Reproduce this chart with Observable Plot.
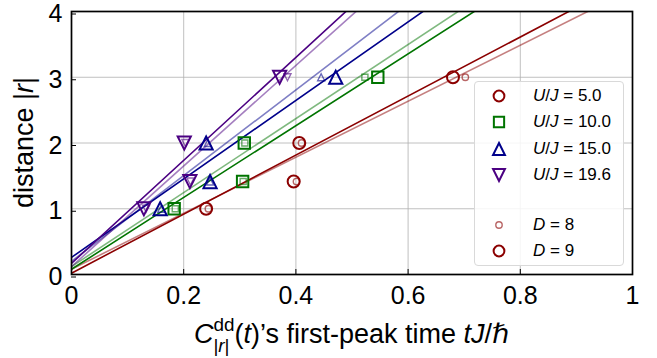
<!DOCTYPE html>
<html>
<head>
<meta charset="utf-8">
<script src="https://cdn.jsdelivr.net/npm/d3@7"></script>
<script src="https://cdn.jsdelivr.net/npm/@observablehq/plot@0.6"></script>
<style>
  body { margin: 0; background: #fff; }
  #chart { position: relative; width: 657px; height: 358px; font-family: "Liberation Sans", Arial, "DejaVu Sans", sans-serif; }
  .legend { position: absolute; left: 474px; top: 81px; width: 150px; height: 185px; box-sizing: border-box;
            border: 1px solid #d9d9d9; border-radius: 4px; background: rgba(255,255,255,0.85); }
  .row { position: absolute; left: 0; height: 20px; line-height: 20px; font-size: 17px; color: #000; white-space: nowrap; }
  .row svg { position: absolute; left: 14px; top: 0; }
  .row span.t { position: absolute; left: 58px; top: 0; }
</style>
</head>
<body>
<div id="chart"></div>
<script>
// Interaction strengths and styling per series
const couplings = [5.0, 10.0, 15.0, 19.6];
const couplingLabels = ["5.0", "10.0", "15.0", "19.6"];
const colors = ["#8b0000", "#007400", "#00008b", "#4b0082"];

// Distances |r| at which the first peak is recorded
const distances = [1, 1.414, 2, 3];

// First-peak times tJ/ħ, system size D = 9
const peakD9_U5  = [0.240, 0.396, 0.406, 0.680];
const peakD9_U10 = [0.183, 0.305, 0.308, 0.546];
const peakD9_U15 = [0.158, 0.247, 0.240, 0.471];
const peakD9_U19 = [0.129, 0.211, 0.201, 0.371];

// First-peak times tJ/ħ, system size D = 8
const peakD8_U5  = [0.244, 0.401, 0.410, 0.702];
const peakD8_U10 = [0.185, 0.306, 0.309, 0.523];
const peakD8_U15 = [0.160, 0.247, 0.243, 0.445];
const peakD8_U19 = [0.133, 0.212, 0.203, 0.385];

// Linear fits |r| = intercept + slope * t, per coupling
const fitSlopeD9     = [4.49, 5.46, 5.97, 7.83];
const fitInterceptD9 = [0.02, 0.08, 0.26, 0.17];
const fitSlopeD8     = [4.26, 5.63, 6.52, 7.65];
const fitInterceptD8 = [0.08, 0.12, 0.20, 0.12];

// Axis ticks
const xTicks = [0, 0.2, 0.4, 0.6, 0.8, 1];
const xTickLabels = ["0", "0.2", "0.4", "0.6", "0.8", "1"];
const yTicks = [0, 1, 2, 3, 4];
const yTickLabels = ["0", "1", "2", "3", "4"];

const peaksD9 = [peakD9_U5, peakD9_U10, peakD9_U15, peakD9_U19];
const peaksD8 = [peakD8_U5, peakD8_U10, peakD8_U15, peakD8_U19];

// Marker shapes (matplotlib-like), sized from the dot radius
const shape = (f) => ({ draw(ctx, size) { f(ctx, Math.sqrt(size / Math.PI)); } });
const symCircle = shape((c, R) => { c.moveTo(R, 0); c.arc(0, 0, R, 0, 2 * Math.PI); c.closePath(); });
const symSquare = shape((c, R) => { const h = R * 0.95; c.moveTo(-h, -h); c.lineTo(h, -h); c.lineTo(h, h); c.lineTo(-h, h); c.closePath(); });
const symTriUp = shape((c, R) => { const h = R * 1.1; c.moveTo(0, -h); c.lineTo(h, h); c.lineTo(-h, h); c.closePath(); });
const symTriDown = shape((c, R) => { const h = R * 1.1; c.moveTo(0, h); c.lineTo(h, -h); c.lineTo(-h, -h); c.closePath(); });
const symbols = [symCircle, symSquare, symTriUp, symTriDown];

const bigR = 6, smallR = 3.2;
const lightOpacity = 0.5;
const tickFont = 25, labelFont = 27;

// Fit lines evaluated across the x domain (clipped to the frame)
function fitRows(slopes, intercepts, k) {
  return [xTicks[0], xTicks[xTicks.length - 1]].map(t => ({ t, r: intercepts[k] + slopes[k] * t }));
}
function pointRows(peaks, k) {
  return distances.map((r, i) => ({ t: peaks[k][i], r }));
}

const marks = [
  Plot.gridX(xTicks, { stroke: "#b0b0b0", strokeOpacity: 1, strokeWidth: 0.8 }),
  Plot.gridY(yTicks, { stroke: "#b0b0b0", strokeOpacity: 1, strokeWidth: 0.8 })
];
couplings.forEach((u, k) => {
  marks.push(Plot.line(fitRows(fitSlopeD8, fitInterceptD8, k), { x: "t", y: "r", stroke: colors[k], strokeOpacity: lightOpacity, strokeWidth: 1.6, clip: true }));
  marks.push(Plot.line(fitRows(fitSlopeD9, fitInterceptD9, k), { x: "t", y: "r", stroke: colors[k], strokeWidth: 1.6, clip: true }));
});
couplings.forEach((u, k) => {
  marks.push(Plot.dot(pointRows(peaksD8, k), { x: "t", y: "r", symbol: symbols[k], r: smallR, stroke: colors[k], strokeOpacity: lightOpacity + 0.1, strokeWidth: 1.4, fill: "none" }));
  marks.push(Plot.dot(pointRows(peaksD9, k), { x: "t", y: "r", symbol: symbols[k], r: bigR, stroke: colors[k], strokeWidth: 2, fill: "none" }));
});
marks.push(
  Plot.axisX(xTicks, { tickSize: -5, tickPadding: 17, tickFormat: d => xTickLabels[xTicks.indexOf(d)], label: null, fontSize: tickFont, stroke: "#000" }),
  Plot.axisY(yTicks, { tickSize: -5, tickPadding: 14, dy: 2.5, tickFormat: d => yTickLabels[yTicks.indexOf(d)], label: null, fontSize: tickFont, stroke: "#000" }),
  Plot.frame({ stroke: "#000", strokeWidth: 1.7 })
);

const svg = Plot.plot({
  width: 657, height: 358,
  marginLeft: 71, marginRight: 25, marginTop: 11, marginBottom: 84,
  x: { domain: [0, 1] },
  y: { domain: [0, 4] },
  style: { fontFamily: '"Liberation Sans", Arial, "DejaVu Sans", sans-serif', color: "#000", background: "transparent", overflow: "visible" },
  marks
});

const chart = document.getElementById("chart");
chart.appendChild(svg);

// Axis titles with italics and stacked sub/superscripts.
// "back" restarts at the previous segment's start (stacking sub under sup),
// "clear" resumes after the widest run so far.
function richText(parent, segs, size) {
  const g = d3.select(parent).append("g").attr("text-anchor", "start");
  let cursor = 0, maxX = 0, prevStart = 0;
  for (const s of segs) {
    const fs = size * (s.scale || 1);
    const startX = s.back ? prevStart : s.clear ? maxX : cursor;
    const el = g.append("text").attr("x", startX).attr("y", (s.shift || 0) * size)
      .attr("text-anchor", "start")
      .attr("font-size", fs).attr("font-style", s.italic ? "italic" : "normal")
      .attr("fill", "#000").text(s.text);
    const w = el.node().getComputedTextLength();
    prevStart = startX;
    cursor = startX + w;
    maxX = Math.max(maxX, cursor);
  }
  return { g, width: maxX };
}

const xl = richText(svg, [
  { text: "C", italic: true },
  { text: "dd", scale: 0.7, shift: -0.45 },
  { text: "|", scale: 0.7, shift: 0.32, back: true },
  { text: "r", scale: 0.7, shift: 0.32, italic: true },
  { text: "|", scale: 0.7, shift: 0.32 },
  { text: "(", clear: true },
  { text: "t", italic: true },
  { text: ")’s first-peak time\u00a0" },
  { text: "tJ", italic: true },
  { text: "/" },
  { text: "ℏ", italic: true }
], labelFont);
xl.g.attr("transform", `translate(${(71 + 632) / 2 - xl.width / 2},343)`);

const yl = richText(svg, [
  { text: "distance |" },
  { text: "r", italic: true },
  { text: "|" }
], labelFont);
yl.g.attr("transform", `translate(33,${(11 + 274) / 2 + yl.width / 2}) rotate(-90)`);

// Legend
const legend = document.createElement("div");
legend.className = "legend";
chart.appendChild(legend);
function markerSvg(sym, r, color, opacity, sw) {
  const path = d3.symbol(sym, r * r * Math.PI)();
  return `<svg width="20" height="20" viewBox="-10 -10 20 20"><path d="${path}" fill="none" stroke="${color}" stroke-opacity="${opacity}" stroke-width="${sw}"/></svg>`;
}
const legendRows = [];
couplings.forEach((u, k) => legendRows.push({
  top: [14, 40, 67, 93][k],
  marker: markerSvg(symbols[k], bigR * 0.9, colors[k], 1, 2),
  html: `<i>U</i>/<i>J</i> = ${couplingLabels[k]}`
}));
legendRows.push({ top: 143, marker: markerSvg(symCircle, smallR, colors[0], lightOpacity + 0.1, 1.4), html: `<i>D</i> = 8` });
legendRows.push({ top: 169, marker: markerSvg(symCircle, bigR * 0.9, colors[0], 1, 2), html: `<i>D</i> = 9` });
for (const row of legendRows) {
  const d = document.createElement("div");
  d.className = "row";
  d.style.top = (row.top - 10) + "px";
  d.innerHTML = row.marker + `<span class="t">${row.html}</span>`;
  legend.appendChild(d);
}
</script>
</body>
</html>
